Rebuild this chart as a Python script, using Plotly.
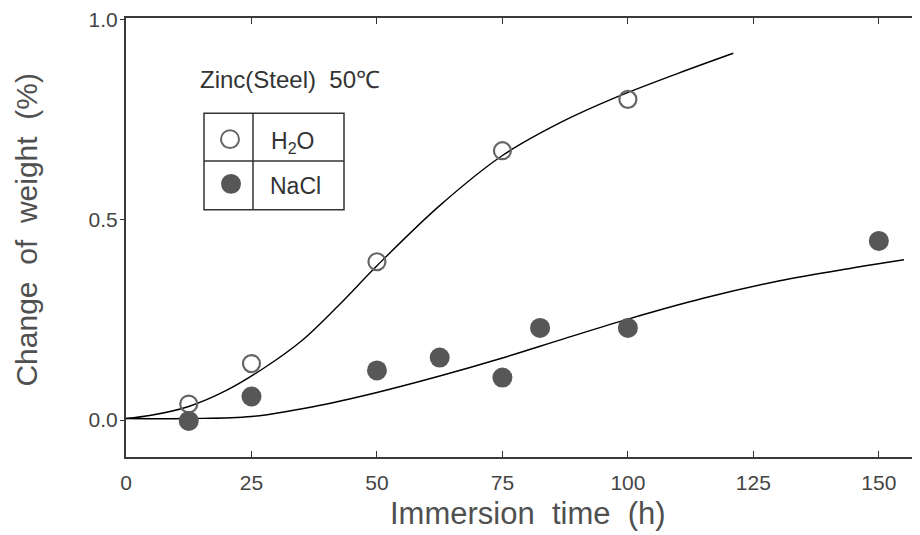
import plotly.graph_objects as go

# Measured points
h2o_x = [12.5, 25, 50, 75, 100]
h2o_y = [0.04, 0.141, 0.395, 0.672, 0.80]
nacl_x = [12.5, 25, 50, 62.5, 75, 82.5, 100, 150]
nacl_y = [-0.002, 0.059, 0.124, 0.156, 0.106, 0.23, 0.23, 0.447]

# Fitted curves
h2o_curve_x = [0, 5, 12.5, 20, 27.5, 35, 42.5, 50, 62.5, 75, 87, 97.6, 110, 121]
h2o_curve_y = [0.004, 0.012, 0.034, 0.074, 0.13, 0.198, 0.288, 0.385, 0.535, 0.66, 0.745, 0.805, 0.865, 0.915]
nacl_curve_x = [0, 12.5, 25, 37.5, 50, 62.5, 75, 87.5, 100, 115, 130, 145, 155]
nacl_curve_y = [0.004, 0.004, 0.009, 0.034, 0.069, 0.11, 0.155, 0.204, 0.252, 0.304, 0.347, 0.38, 0.4]

x_ticks = [0, 25, 50, 75, 100, 125, 150]
y_ticks = [0.0, 0.5, 1.0]
y_tick_labels = ["0.0", "0.5", "1.0"]

FONT = "Liberation Sans, Arial"
GRAY = "#444444"
TGRAY = "#505050"

# plot area in absolute pixels (the page has an 8px body margin)
L, R, T, B = 126, 920, 15, 457


def px(x):
    return (x - L) / float(R - L)


def py(y):
    return (B - y) / float(B - T)


fig = go.Figure()
fig.add_trace(go.Scatter(x=h2o_curve_x, y=h2o_curve_y, mode="lines",
                         line=dict(color="black", width=1.4, shape="spline"), showlegend=False))
fig.add_trace(go.Scatter(x=nacl_curve_x, y=nacl_curve_y, mode="lines",
                         line=dict(color="black", width=1.4, shape="spline"), showlegend=False))
fig.add_trace(go.Scatter(x=h2o_x, y=h2o_y, mode="markers",
                         marker=dict(symbol="circle-open", size=17, color="#666666",
                                     line=dict(width=2.2, color="#666666")), showlegend=False))
fig.add_trace(go.Scatter(x=nacl_x, y=nacl_y, mode="markers",
                         marker=dict(symbol="circle", size=20, color="#575757",
                                     line=dict(width=0)), showlegend=False))

shapes = [
    dict(type="rect", xref="paper", yref="paper", x0=px(204), x1=px(344), y0=py(208), y1=py(111),
         line=dict(color="#333333", width=1.5)),
    dict(type="line", xref="paper", yref="paper", x0=px(253), x1=px(253), y0=py(208), y1=py(111),
         line=dict(color="#333333", width=1.5)),
    dict(type="line", xref="paper", yref="paper", x0=px(204), x1=px(344), y0=py(159), y1=py(159),
         line=dict(color="#333333", width=1.5)),
    dict(type="circle", xref="paper", yref="paper", x0=px(221), x1=px(239), y0=py(146), y1=py(128),
         line=dict(color="#666666", width=2)),
    dict(type="circle", xref="paper", yref="paper", x0=px(221), x1=px(241), y0=py(192), y1=py(172),
         fillcolor="#575757", line=dict(color="#575757", width=0)),
]

annotations = [
    dict(text="Zinc(Steel)  50℃", xref="paper", yref="paper", x=px(290), y=py(77),
         xanchor="center", yanchor="middle",
         showarrow=False, font=dict(family=FONT, size=24, color="#333333")),
    dict(text="H<sub>2</sub>O", xref="paper", yref="paper", x=px(292), y=py(140),
         xanchor="center", yanchor="middle",
         showarrow=False, font=dict(family=FONT, size=23, color="#333333")),
    dict(text="NaCl", xref="paper", yref="paper", x=px(295), y=py(184),
         xanchor="center", yanchor="middle",
         showarrow=False, font=dict(family=FONT, size=23, color="#333333")),
    dict(text="Immersion  time  (h)", xref="paper", yref="paper", x=px(528), y=py(514),
         xanchor="center", yanchor="middle",
         showarrow=False, font=dict(family=FONT, size=31, color=TGRAY)),
    dict(text="Change  of  weight  (%)", xref="paper", yref="paper", x=px(27), y=py(228),
         xanchor="center", yanchor="middle", textangle=-90,
         showarrow=False, font=dict(family=FONT, size=30, color=TGRAY)),
]

fig.update_layout(
    width=912, height=527,
    margin=dict(l=L - 8, r=8 + 912 - R, t=T - 8, b=8 + 527 - B),
    paper_bgcolor="white", plot_bgcolor="white",
    shapes=shapes, annotations=annotations,
    xaxis=dict(range=[0, 158.2], tickvals=x_ticks, ticks="inside", ticklen=6, tickcolor="#333333",
               showline=True, linecolor="#3a3a3a", linewidth=2, mirror="ticks",
               showgrid=False, zeroline=False, ticklabelstandoff=6,
               tickfont=dict(family=FONT, size=21, color=GRAY)),
    yaxis=dict(range=[-0.092, 1.003], tickvals=y_ticks, ticktext=y_tick_labels, ticks="outside", ticklen=4,
               tickcolor="#333333", showline=True, linecolor="#3a3a3a", linewidth=2,
               showgrid=False, zeroline=False, ticklabelstandoff=-2, ticklabeloverflow="allow",
               tickfont=dict(family=FONT, size=21, color=GRAY)),
)

fig.write_html("out.html")
